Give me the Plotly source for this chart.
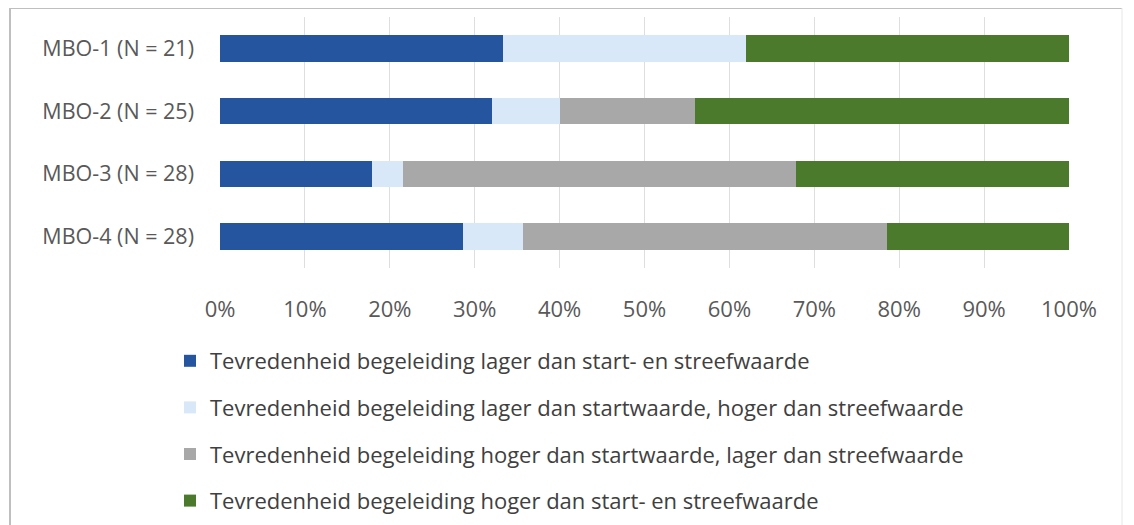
import plotly.graph_objects as go

categories = ["MBO-1 (N = 21)", "MBO-2 (N = 25)", "MBO-3 (N = 28)", "MBO-4 (N = 28)"]
series_names = [
    "Tevredenheid begeleiding lager dan start- en streefwaarde",
    "Tevredenheid begeleiding lager dan startwaarde, hoger dan streefwaarde",
    "Tevredenheid begeleiding hoger dan startwaarde, lager dan streefwaarde",
    "Tevredenheid begeleiding hoger dan start- en streefwaarde",
]
lager_beide = [33.3, 32.0, 17.9, 28.6]
lager_start_hoger_streef = [28.6, 8.0, 3.6, 7.1]
hoger_start_lager_streef = [0.0, 16.0, 46.4, 42.9]
hoger_beide = [38.1, 44.0, 32.1, 21.4]
x_ticks = [0, 10, 20, 30, 40, 50, 60, 70, 80, 90, 100]
x_tick_labels = ["0%", "10%", "20%", "30%", "40%", "50%", "60%", "70%", "80%", "90%", "100%"]

colors = ["#25559f", "#d9e8f8", "#a8a8a8", "#4b7a2c"]
values = [lager_beide, lager_start_hoger_streef, hoger_start_lager_streef, hoger_beide]

FONT = "Open Sans"
# page body has an 8px margin; figure is sized to fit the remaining window
W, H = 1126, 517
L, T = 212, 9
PW, PH = 849, 251

fig = go.Figure()
for i, (name, vals, col) in enumerate(zip(series_names, values, colors)):
    fig.add_trace(go.Bar(
        y=categories, x=vals, name=name, orientation="h",
        marker=dict(color=col, line=dict(width=0)),
        legendgroup=f"g{i}",
        hoverinfo="x+name",
    ))

def px(x):
    return (x - 8 - L) / PW

def py(y):
    return (T + PH - (y - 8)) / PH

fig.update_layout(
    barmode="stack",
    bargap=0.58,
    width=W, height=H,
    margin=dict(l=L, r=W - L - PW, t=T, b=H - T - PH, autoexpand=False),
    plot_bgcolor="white", paper_bgcolor="white",
    font=dict(family=FONT, size=18, color="#595959"),
    showlegend=True,
    legend=dict(
        x=px(170), xanchor="left", y=py(340), yanchor="top",
        orientation="v", tracegroupgap=15,
        font=dict(family=FONT, size=22, color="#404040"),
        itemwidth=30, bgcolor="rgba(0,0,0,0)",
    ),
    xaxis=dict(
        range=[0, 100], tickvals=x_ticks, ticktext=x_tick_labels,
        showgrid=True, gridcolor="#dedede", gridwidth=1,
        zeroline=False, showline=False, ticks="",
        ticklabelstandoff=26,
        tickfont=dict(family=FONT, size=22, color="#595959"),
    ),
    yaxis=dict(
        categoryorder="array", categoryarray=categories, autorange="reversed",
        showgrid=False, zeroline=False, showline=False, ticks="",
        ticklabelstandoff=25,
        tickfont=dict(family=FONT, size=21.5, color="#595959"),
    ),
    shapes=[
        dict(type="line", xref="paper", yref="paper",
             x0=px(10), x1=px(1122), y0=py(8), y1=py(8),
             line=dict(color="#bfbfbf", width=2)),
        dict(type="line", xref="paper", yref="paper",
             x0=px(10), x1=px(10), y0=py(8), y1=py(530),
             line=dict(color="#bfbfbf", width=2)),
        dict(type="line", xref="paper", yref="paper",
             x0=px(1122), x1=px(1122), y0=py(8), y1=py(530),
             line=dict(color="#e6e6e6", width=1)),
    ],
)

fig.write_html("out.html")
